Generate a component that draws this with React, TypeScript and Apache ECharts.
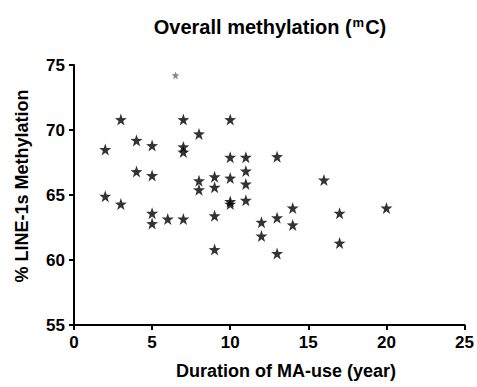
import React, { useEffect, useRef } from "react";
import * as echarts from "echarts";

const durationYears: number[] = [
  2, 2, 3, 3, 4, 4, 5, 5, 5, 5, 6, 7, 7, 7, 7, 8, 8, 8, 9, 9, 9, 9,
  10, 10, 10, 10, 10, 11, 11, 11, 11, 12, 12, 13, 13, 13, 14, 14, 16, 17, 17, 20,
];
const methylation: number[] = [
  68.5, 64.9, 70.8, 64.3, 69.2, 66.8, 68.8, 66.5, 63.6, 62.8, 63.15, 70.8, 68.7, 68.3, 63.15,
  69.7, 66.1, 65.4, 66.4, 65.6, 63.4, 60.8,
  70.8, 67.9, 66.3, 64.5, 64.3, 67.9, 66.85, 65.85, 64.6, 62.9, 61.85, 67.95, 63.25, 60.5,
  64.0, 62.7, 66.15, 63.6, 61.3, 64.0,
];
const faintPoint: number[] = [6.5, 74.2];
const xTicks: number[] = [0, 5, 10, 15, 20, 25];
const yTicks: number[] = [55, 60, 65, 70, 75];

const STAR =
  "path://M50,0 L62,34 L99,35 L69,57 L80,92 L50,71 L20,92 L31,57 L1,35 L38,34 Z";
const FONT = "Liberation Sans, Arial, sans-serif";

export default function App() {
  const ref = useRef<HTMLDivElement>(null);
  useEffect(() => {
    if (!ref.current) return;
    const chart = echarts.init(ref.current, null, { renderer: "svg" });
    const pts = durationYears.map((x, i) => [x, methylation[i]]);
    chart.setOption({
      animation: false,
      backgroundColor: "#fff",
      grid: { left: 74, right: 12, top: 65, bottom: 62 },
      xAxis: {
        type: "value",
        min: xTicks[0],
        max: xTicks[xTicks.length - 1],
        interval: 5,
        splitLine: { show: false },
        axisLine: { show: true, lineStyle: { color: "#000", width: 2 } },
        axisTick: { show: true, length: 5, lineStyle: { color: "#000", width: 2 } },
        axisLabel: {
          color: "#000",
          fontFamily: FONT,
          fontWeight: "bold",
          fontSize: 17,
          margin: 9,
        },
      },
      yAxis: {
        type: "value",
        min: yTicks[0],
        max: yTicks[yTicks.length - 1],
        interval: 5,
        splitLine: { show: false },
        axisLine: { show: true, lineStyle: { color: "#000", width: 2 } },
        axisTick: { show: true, length: 5, lineStyle: { color: "#000", width: 2 } },
        axisLabel: {
          color: "#000",
          fontFamily: FONT,
          fontWeight: "bold",
          fontSize: 17,
          margin: 9,
        },
      },
      graphic: [
        {
          type: "text",
          x: 270,
          y: 27,
          style: {
            text: "{a|Overall methylation (}{s|m}{a|C)}",
            textAlign: "center",
            textVerticalAlign: "middle",
            fill: "#000",
            rich: {
              a: { fontFamily: FONT, fontWeight: "bold", fontSize: 20, fill: "#000" },
              s: {
                fontFamily: FONT,
                fontWeight: "bold",
                fontSize: 13,
                fill: "#000",
                verticalAlign: "top",
                padding: [0, 1, 9, 1],
              },
            },
          },
        },
        {
          type: "text",
          x: 286,
          y: 371,
          style: {
            text: "Duration of MA-use (year)",
            textAlign: "center",
            textVerticalAlign: "middle",
            fontFamily: FONT,
            fontWeight: "bold",
            fontSize: 18,
            fill: "#000",
          },
        },
        {
          type: "text",
          x: 22,
          y: 186,
          rotation: Math.PI / 2,
          style: {
            text: "% LINE-1s Methylation",
            textAlign: "center",
            textVerticalAlign: "middle",
            fontFamily: FONT,
            fontWeight: "bold",
            fontSize: 18,
            fill: "#000",
          },
        },
      ],
      series: [
        {
          type: "scatter",
          symbol: STAR,
          symbolSize: 12,
          itemStyle: { color: "#000" },
          data: pts,
        },
        {
          type: "scatter",
          symbol: STAR,
          symbolSize: 8,
          itemStyle: { color: "#666" },
          data: [faintPoint],
        },
      ],
    });
    return () => chart.dispose();
  }, []);
  return (
    <div
      ref={ref}
      style={{ position: "fixed", left: 0, top: 0, width: 477, height: 387 }}
    />
  );
}
